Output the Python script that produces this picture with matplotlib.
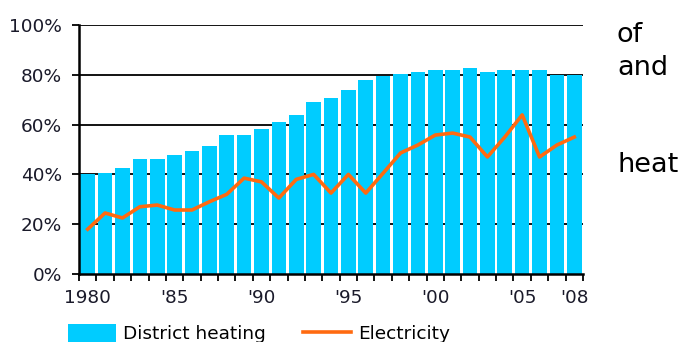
import matplotlib
matplotlib.use("Agg")
import matplotlib.pyplot as plt
import numpy as np

years = list(range(1980, 2009))
district_heating = [40, 40.7, 42.5, 46, 46, 47.8, 49.5, 51.4, 55.7, 55.7,
                    58.4, 61, 63.7, 69, 70.7, 74, 78, 79.5, 80.3, 81.2,
                    82, 82, 82.9, 81.2, 82, 82, 82, 80, 80]
electricity = [18, 24.5, 22.5, 27, 27.7, 25.7, 25.7, 29, 32, 38.5,
               37, 30.5, 38, 40, 32.5, 40, 32.5, 40.5, 48.6, 51.8,
               55.8, 56.6, 55, 47, 55, 63.9, 47, 51.8, 55]
tick_years = [1980, 1985, 1990, 1995, 2000, 2005, 2008]
tick_labels = ["1980", "'85", "'90", "'95", "'00", "'05", "'08"]
yticks = [0, 20, 40, 60, 80, 100]
ylabels = ["0%", "20%", "40%", "60%", "80%", "100%"]

W, H = 678, 342
fig = plt.figure(figsize=(W / 100, H / 100), dpi=100)
ax = fig.add_axes([79 / W, (H - 274) / H, (583 - 79) / W, (274 - 25) / H])

x = np.arange(len(years))
bar_color = "#00CCFF"
line_color = "#FF6A10"
for yv in yticks[1:]:
    ax.axhline(yv, color="black", lw=1.3, zorder=0.5)
bars = ax.bar(x, district_heating, width=0.84, color=bar_color, zorder=3,
              label="District heating")
ln, = ax.plot(x, electricity, color=line_color, lw=2.6, zorder=4,
              solid_joinstyle="round", label="Electricity")

ax.set_xlim(-0.5, len(years) - 0.5)
ax.set_ylim(0, 100)
ax.set_yticks(yticks)
ax.set_yticklabels(ylabels)

# tick marks at category boundaries, labels at centres
ax.set_xticks(np.arange(len(years) + 1) - 0.5)
ax.set_xticklabels([])
ax.set_xticks([years.index(y) for y in tick_years], minor=True)
ax.set_xticklabels(tick_labels, minor=True)
ax.tick_params(axis="x", which="major", direction="out", length=5, width=1.3,
               color="black")
ax.tick_params(axis="x", which="minor", length=0, pad=11, labelsize=13.3,
               labelcolor="#1a1a2a")
ax.tick_params(axis="y", direction="out", length=5, width=1.3, pad=7,
               labelsize=13.3, labelcolor="#1a1a2a")

for s in ["top", "right"]:
    ax.spines[s].set_visible(False)
ax.spines["left"].set_linewidth(1.8)
ax.spines["bottom"].set_linewidth(1.8)
ax.spines["left"].set_zorder(5)
ax.spines["bottom"].set_zorder(5)

fig.legend(handles=[bars, ln], loc="upper left",
           bbox_to_anchor=(68 / W, 1 - 324 / H), ncol=2, frameon=False,
           fontsize=13.3, handlelength=2.6, handleheight=1.1,
           handletextpad=0.4, columnspacing=2.0, borderpad=0,
           borderaxespad=0)

for txt, yb in [("of", 42), ("and", 75), ("heat", 172)]:
    fig.text(617 / W, 1 - yb / H, txt, fontsize=19.5, color="black",
             va="baseline", ha="left")

fig.savefig("out.png", dpi=100)
